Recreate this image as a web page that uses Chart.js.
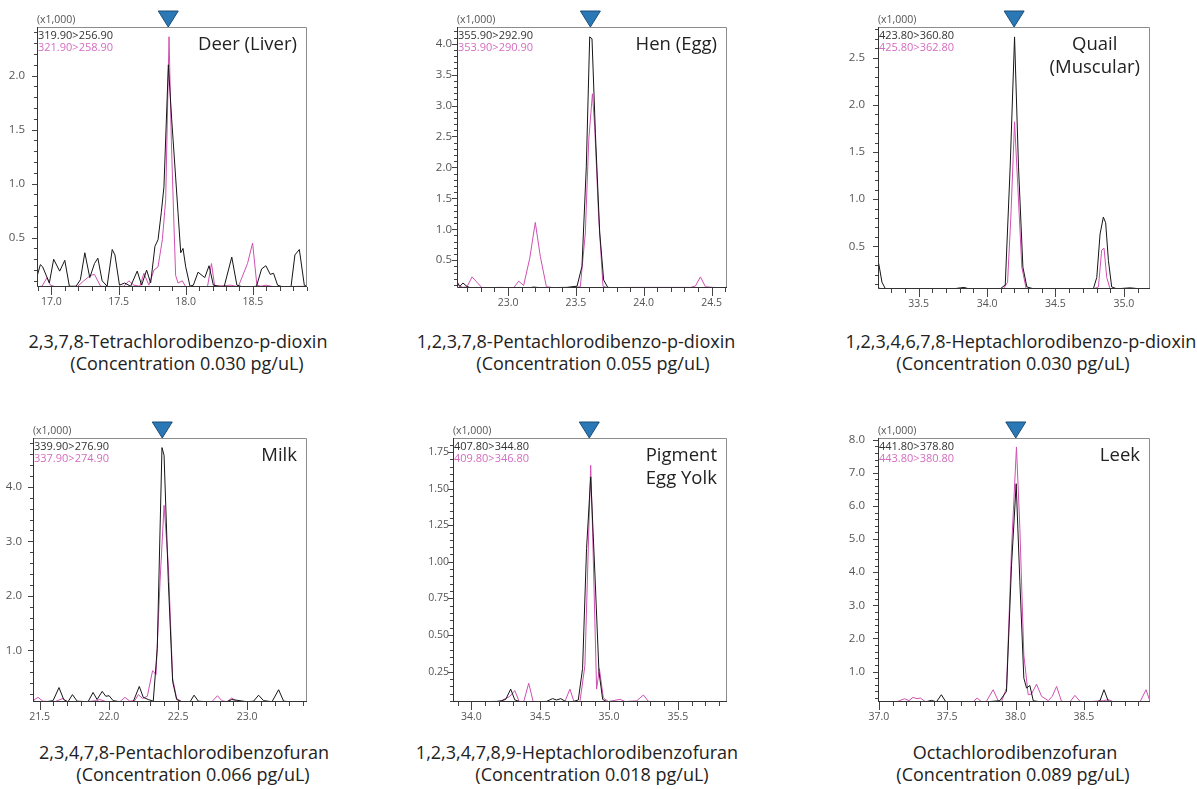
<!DOCTYPE html>
<html><head><meta charset="utf-8">
<script src="https://cdn.jsdelivr.net/npm/chart.js@4.4.1/dist/chart.umd.min.js"></script>
<style>
html,body{margin:0;padding:0;background:#fff;}
body{width:1197px;height:789px;position:relative;overflow:hidden;font-family:"Open Sans",sans-serif;}
canvas{position:absolute;}
.cap{position:absolute;white-space:nowrap;font-size:18px;color:#222;transform:translate(-50%,-50%);line-height:22px;}
</style></head><body>
<script>
// ---------- DATA (retention time in min, intensity x1,000) ----------
const deerBlackT = [16.893,16.918,16.935,16.985,17.017,17.062,17.100,17.134,17.184,17.216,17.249,17.286,17.321,17.346,17.378,17.415,17.453,17.473,17.507,17.545,17.590,17.639,17.672,17.709,17.739,17.771,17.794,17.818,17.838,17.871,17.896,17.925,17.943,17.963,17.980,18.000,18.032,18.057,18.092,18.142,18.174,18.206,18.249,18.286,18.343,18.381,18.423,18.480,18.527,18.565,18.597,18.629,18.654,18.684,18.721,18.784,18.813,18.846,18.883,18.903];
const deerBlackY = [0.14,0.25,0.23,0.08,0.30,0.19,0.29,0.05,0.05,0.11,0.36,0.13,0.26,0.31,0.10,0.05,0.39,0.34,0.06,0.08,0.05,0.19,0.06,0.20,0.08,0.42,0.48,0.73,0.97,2.10,1.59,1.06,0.73,0.36,0.40,0.23,0.05,0.06,0.18,0.13,0.24,0.06,0.05,0.045,0.32,0.06,0.045,0.045,0.05,0.21,0.24,0.16,0.17,0.06,0.045,0.045,0.34,0.39,0.06,0.05];
const deerPinkT = [16.893,16.930,16.968,16.993,17.030,17.192,17.241,17.291,17.321,17.366,17.465,17.540,17.577,17.614,17.659,17.689,17.726,17.764,17.794,17.826,17.851,17.876,17.893,17.913,17.925,17.943,17.975,18.000,18.162,18.192,18.216,18.336,18.391,18.460,18.498,18.530,18.560,18.597,18.659,18.903];
const deerPinkY = [0.045,0.05,0.13,0.06,0.045,0.045,0.10,0.15,0.16,0.05,0.045,0.05,0.10,0.06,0.05,0.17,0.06,0.20,0.23,0.48,0.85,2.36,1.40,0.60,0.15,0.08,0.10,0.045,0.045,0.26,0.05,0.06,0.045,0.26,0.45,0.06,0.05,0.06,0.045,0.05];

const henBlackT = [22.624,22.644,22.668,22.698,22.722,23.160,23.189,23.238,23.435,23.509,23.545,23.577,23.602,23.619,23.644,23.676,23.705,23.735,23.779,24.614];
const henBlackY = [0.14,0.075,0.13,0.075,0.055,0.055,0.065,0.055,0.06,0.08,0.40,2.01,4.11,4.08,2.55,0.94,0.18,0.06,0.055,0.055];
const henPinkT = [22.624,22.644,22.668,22.698,22.735,22.776,22.808,22.943,23.042,23.079,23.115,23.160,23.201,23.238,23.283,23.337,23.484,23.533,23.570,23.595,23.622,23.639,23.668,23.700,23.730,23.926,24.172,24.344,24.381,24.418,24.455,24.541,24.614];
const henPinkY = [0.16,0.08,0.06,0.07,0.23,0.13,0.055,0.06,0.055,0.16,0.09,0.53,1.11,0.56,0.07,0.055,0.06,0.07,0.94,2.44,3.19,2.66,1.20,0.08,0.055,0.06,0.06,0.06,0.08,0.23,0.07,0.055,0.06];

const quailBlackT = [33.208,33.232,33.257,33.342,33.512,33.755,33.780,33.804,33.833,33.865,33.999,34.096,34.133,34.169,34.201,34.230,34.262,34.291,34.339,34.485,34.729,34.777,34.802,34.826,34.850,34.867,34.887,34.911,34.948,35.045,35.082,35.118,35.191];
const quailBlackY = [0.32,0.12,0.05,0.05,0.049,0.05,0.055,0.06,0.065,0.05,0.049,0.05,0.09,1.34,2.72,1.34,0.28,0.07,0.05,0.049,0.05,0.05,0.17,0.63,0.81,0.75,0.35,0.07,0.05,0.06,0.055,0.05,0.05];
const quailPinkT = [33.208,33.232,33.269,33.378,33.512,33.755,33.999,34.120,34.150,34.174,34.201,34.225,34.254,34.286,34.339,34.777,34.814,34.838,34.855,34.875,34.899,35.191];
const quailPinkY = [0.06,0.05,0.049,0.05,0.05,0.05,0.049,0.05,0.12,0.81,1.82,1.13,0.28,0.05,0.049,0.049,0.07,0.46,0.48,0.17,0.05,0.049];

const milkBlackT = [21.452,21.488,21.548,21.597,21.640,21.674,21.705,21.737,21.771,21.850,21.886,21.915,21.952,21.978,22.002,22.031,22.080,22.176,22.220,22.249,22.285,22.321,22.350,22.384,22.399,22.430,22.461,22.490,22.527,22.587,22.616,22.647,22.708,22.853,22.889,22.998,23.046,23.082,23.118,23.179,23.227,23.263,23.312,23.432];
const milkBlackY = [0.07,0.06,0.06,0.08,0.32,0.10,0.06,0.19,0.07,0.06,0.23,0.10,0.25,0.16,0.17,0.08,0.06,0.06,0.34,0.14,0.10,0.07,1.04,4.72,4.58,2.26,0.43,0.10,0.06,0.06,0.18,0.07,0.06,0.06,0.10,0.06,0.07,0.18,0.08,0.06,0.28,0.07,0.06,0.06];
const milkPinkT = [21.452,21.488,21.524,21.609,21.669,21.693,21.838,21.911,21.935,21.983,22.080,22.116,22.152,22.188,22.213,22.244,22.278,22.316,22.341,22.370,22.399,22.430,22.461,22.490,22.527,22.744,22.785,22.816,22.853,22.889,22.925,23.432];
const milkPinkY = [0.08,0.14,0.07,0.06,0.12,0.06,0.06,0.08,0.10,0.06,0.06,0.14,0.07,0.08,0.19,0.12,0.16,0.63,0.56,2.26,3.66,2.57,0.49,0.12,0.06,0.06,0.17,0.08,0.06,0.13,0.06,0.06];

const yolkBlackT = [33.867,33.964,34.109,34.182,34.218,34.250,34.286,34.316,34.352,34.498,34.546,34.590,34.619,34.650,34.684,34.740,34.777,34.808,34.837,34.867,34.898,34.927,34.954,34.983,35.177,35.250,35.323,35.420];
const yolkBlackY = [0.046,0.045,0.045,0.046,0.05,0.06,0.13,0.056,0.045,0.045,0.046,0.065,0.056,0.065,0.046,0.045,0.056,0.27,1.09,1.58,0.91,0.25,0.06,0.045,0.045,0.046,0.045,0.045];
const yolkPinkT = [33.867,33.988,34.206,34.279,34.316,34.347,34.381,34.417,34.449,34.498,34.619,34.680,34.716,34.745,34.789,34.825,34.867,34.881,34.910,34.930,34.959,34.995,35.080,35.117,35.201,35.250,35.286,35.420];
const yolkPinkY = [0.045,0.045,0.045,0.08,0.12,0.046,0.046,0.17,0.046,0.045,0.045,0.046,0.13,0.046,0.045,0.29,1.66,1.20,0.13,0.27,0.07,0.045,0.06,0.045,0.05,0.09,0.046,0.045];

const leekBlackT = [36.993,37.176,37.347,37.384,37.421,37.457,37.489,37.592,37.787,37.885,37.934,37.971,38.005,38.032,38.061,38.081,38.105,38.130,38.178,38.594,38.619,38.648,38.680,38.765,38.985];
const leekBlackY = [0.09,0.085,0.09,0.13,0.085,0.30,0.09,0.085,0.085,0.12,0.40,4.21,6.67,3.71,0.80,0.50,0.58,0.12,0.085,0.085,0.12,0.45,0.10,0.085,0.085];
const leekPinkT = [36.993,37.103,37.139,37.188,37.220,37.249,37.279,37.303,37.342,37.445,37.689,37.719,37.751,37.787,37.836,37.873,37.897,37.934,37.971,38.007,38.032,38.061,38.093,38.117,38.154,38.191,38.240,38.269,38.301,38.337,38.399,38.435,38.472,38.521,38.643,38.680,38.716,38.912,38.956,38.985];
const leekPinkY = [0.085,0.085,0.10,0.18,0.12,0.22,0.18,0.20,0.085,0.085,0.085,0.20,0.085,0.10,0.45,0.12,0.085,0.50,4.72,7.78,5.32,1.50,0.30,0.32,0.62,0.25,0.12,0.25,0.55,0.10,0.085,0.28,0.10,0.085,0.12,0.15,0.085,0.085,0.45,0.10];

const markerTimes = [17.87, 23.607, 34.198, 22.386, 34.857, 38.002];
const quantChannels = ['319.90>256.90','355.90>292.90','423.80>360.80','339.90>276.90','407.80>344.80','441.80>378.80'];
const confChannels  = ['321.90>258.90','353.90>290.90','425.80>362.80','337.90>274.90','409.80>346.80','443.80>380.80'];
const sampleNames = [['Deer (Liver)'],['Hen (Egg)'],['Quail','(Muscular)'],['Milk'],['Pigment','Egg Yolk'],['Leek']];
const compounds = ['2,3,7,8-Tetrachlorodibenzo-p-dioxin','1,2,3,7,8-Pentachlorodibenzo-p-dioxin','1,2,3,4,6,7,8-Heptachlorodibenzo-p-dioxin','2,3,4,7,8-Pentachlorodibenzofuran','1,2,3,4,7,8,9-Heptachlorodibenzofuran','Octachlorodibenzofuran'];
const concentrations = ['0.030','0.055','0.030','0.066','0.018','0.089'];
const xRanges = [[16.893,18.903],[22.624,24.614],[33.203,35.191],[21.452,23.432],[33.867,35.857],[36.993,38.985]];
const yRanges = [[0.043,2.45],[0.05,4.27],[0.048,2.825],[0.055,4.896],[0.042,1.846],[0.08,8.05]];
const yMajorSteps = [0.5,0.5,0.5,1,0.25,1];
const yMinorSteps = [0.1,0.1,0.1,0.2,0.05,0.2];

// ---------- LAYOUT ----------
const FONT = '"Open Sans", sans-serif';
const BLACK = '#151515', PINK = '#cf50b2', PINK_TXT = '#d46cc0';
const plotBoxes = [ // L, R, T, B of plot area
  [37,307,27,287],[457,727,27,288],[878,1150,27,289],
  [33,307,438,702],[453,727,438,702],[878,1150,438,702]];
const yLabelPad = [12,5,13,11,4,13];
const yLabelSize = [11.5,11.5,11.5,11.5,10.5,11.5];
const capPos = [[178,187,341],[576,593,341],[1021,1013,341],[184,193,752],[577,592,752],[1015,1013,752]];

const decor = {
  id: 'decor',
  afterDraw(chart) {
    const p = chart.options.plugins.decor;
    const {ctx, chartArea: a} = chart;
    const xs = chart.scales.x, ys = chart.scales.y;
    ctx.save();
    // frame
    ctx.lineWidth = 1;
    ctx.strokeStyle = '#8c8c8c';
    ctx.beginPath();
    ctx.moveTo(a.left, a.top + 0.5); ctx.lineTo(a.right - 0.5, a.top + 0.5); ctx.lineTo(a.right - 0.5, a.bottom);
    ctx.stroke();
    ctx.strokeStyle = '#333';
    ctx.beginPath();
    ctx.moveTo(a.left + 0.5, a.top); ctx.lineTo(a.left + 0.5, a.bottom - 0.5); ctx.lineTo(a.right, a.bottom - 0.5);
    ctx.stroke();
    // ticks
    ctx.strokeStyle = '#444';
    ctx.beginPath();
    for (let k = Math.ceil(xs.min * 10 - 1e-6); k <= Math.floor(xs.max * 10 + 1e-6); k++) {
      const px = Math.round(xs.getPixelForValue(k / 10)) + 0.5;
      const len = (k % 5 === 0) ? 8 : 4;
      ctx.moveTo(px, a.bottom); ctx.lineTo(px, a.bottom + len);
    }
    const ratio = Math.round(p.yMajor / p.yMinor);
    for (let k = Math.ceil(ys.min / p.yMinor - 1e-6); k * p.yMinor <= ys.max + 1e-9; k++) {
      const py = Math.round(ys.getPixelForValue(k * p.yMinor)) + 0.5;
      const len = (k % ratio === 0) ? 5 : 3;
      ctx.moveTo(a.left, py); ctx.lineTo(a.left - len, py);
    }
    ctx.stroke();
    // peak marker
    const mx = xs.getPixelForValue(p.marker);
    ctx.beginPath();
    ctx.moveTo(mx - 10, a.top - 16); ctx.lineTo(mx + 10, a.top - 16); ctx.lineTo(mx, a.top);
    ctx.closePath();
    ctx.fillStyle = '#2a79b6'; ctx.fill();
    ctx.strokeStyle = '#1b4d78'; ctx.stroke();
    // texts
    ctx.textBaseline = 'middle'; ctx.textAlign = 'left';
    ctx.font = `10.5px ${FONT}`; ctx.fillStyle = '#555';
    ctx.fillText('(x1,000)', a.left, a.top - 7);
    ctx.font = `11px ${FONT}`;
    ctx.fillStyle = '#333'; ctx.fillText(p.ch1, a.left + 1, a.top + 8.5);
    ctx.fillStyle = PINK_TXT; ctx.fillText(p.ch2, a.left + 1, a.top + 20.5);
    ctx.font = `18.5px ${FONT}`; ctx.fillStyle = '#222'; ctx.textAlign = 'center';
    const w = Math.max(...p.name.map(l => ctx.measureText(l).width));
    const cx = a.right - 10 - w / 2;
    p.name.forEach((l, i) => ctx.fillText(l, cx, a.top + 18 + i * 23));
    ctx.restore();
  }
};

const series = [
  [deerBlackT, deerBlackY, deerPinkT, deerPinkY],
  [henBlackT, henBlackY, henPinkT, henPinkY],
  [quailBlackT, quailBlackY, quailPinkT, quailPinkY],
  [milkBlackT, milkBlackY, milkPinkT, milkPinkY],
  [yolkBlackT, yolkBlackY, yolkPinkT, yolkPinkY],
  [leekBlackT, leekBlackY, leekPinkT, leekPinkY]];
const toXY = (t, y) => t.map((v, i) => ({x: v, y: y[i]}));

series.forEach((s, i) => {
  const [L, R, T, B] = plotBoxes[i];
  const cx = L - 33, cy = T - 27, cw = R - cx + 6, ch = B - cy + 25;
  const cv = document.createElement('canvas');
  cv.width = cw; cv.height = ch;
  cv.style.left = cx + 'px'; cv.style.top = cy + 'px';
  cv.style.width = cw + 'px'; cv.style.height = ch + 'px';
  document.body.appendChild(cv);
  const yDec = yMajorSteps[i] < 0.5 ? 2 : 1;
  new Chart(cv, {
    type: 'scatter',
    data: { datasets: [
      {data: toXY(s[0], s[1]), borderColor: BLACK, borderWidth: 1, showLine: true, pointRadius: 0, tension: 0},
      {data: toXY(s[2], s[3]), borderColor: PINK, borderWidth: 1, showLine: true, pointRadius: 0, tension: 0}
    ]},
    options: {
      responsive: false, animation: false, devicePixelRatio: 1, events: [],
      layout: {padding: {left: 0, right: 6, top: 27, bottom: 0}},
      plugins: {
        legend: {display: false}, tooltip: {enabled: false},
        decor: {marker: markerTimes[i], ch1: quantChannels[i], ch2: confChannels[i], name: sampleNames[i],
                yMajor: yMajorSteps[i], yMinor: yMinorSteps[i]}
      },
      scales: {
        x: {type: 'linear', min: xRanges[i][0], max: xRanges[i][1],
            grid: {display: false, drawTicks: false}, border: {display: false},
            ticks: {stepSize: 0.5, includeBounds: false, padding: 9, color: '#555', maxRotation: 0, autoSkip: false,
                    font: {family: FONT, size: 10.5}, callback: v => v.toFixed(1)},
            afterFit: sc => { sc.height = 25; }},
        y: {type: 'linear', min: yRanges[i][0], max: yRanges[i][1],
            grid: {display: false, drawTicks: false}, border: {display: false},
            ticks: {stepSize: yMajorSteps[i], includeBounds: false, padding: yLabelPad[i], color: '#555', autoSkip: false,
                    font: {family: FONT, size: yLabelSize[i]}, callback: v => v.toFixed(yDec)},
            afterFit: sc => { sc.width = 33; }}
      }
    },
    plugins: [decor]
  });
  const [c1, c2, yy] = capPos[i];
  const d1 = document.createElement('div'); d1.className = 'cap';
  d1.style.left = c1 + 'px'; d1.style.top = yy + 'px'; d1.textContent = compounds[i];
  const d2 = document.createElement('div'); d2.className = 'cap';
  d2.style.left = c2 + 'px'; d2.style.top = (yy + 22) + 'px'; d2.textContent = `(Concentration ${concentrations[i]} pg/uL)`;
  document.body.appendChild(d1); document.body.appendChild(d2);
});
</script>
</body></html>
